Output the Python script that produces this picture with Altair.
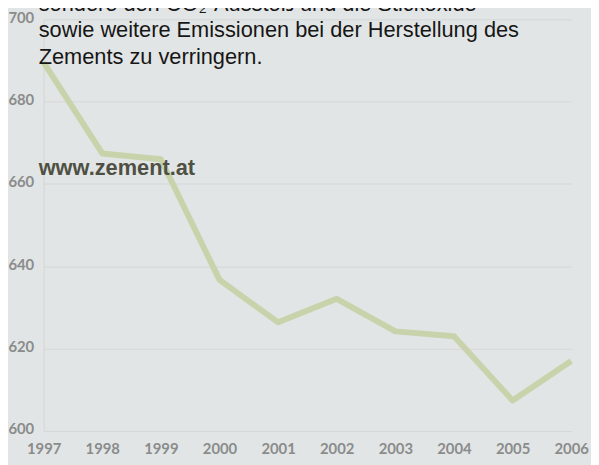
import altair as alt
import pandas as pd

years = ["1997", "1998", "1999", "2000", "2001", "2002", "2003", "2004", "2005", "2006"]
values = [689.5, 667.4, 666.0, 636.7, 626.4, 632.1, 624.2, 623.0, 607.4, 617.0]
y_ticks = [600, 620, 640, 660, 680, 700]
text_lines = [
    "sondere den CO\u2082-Ausstoß und die Stickoxide",
    "sowie weitere Emissionen bei der Herstellung des",
    "Zements zu verringern.",
]
url_text = "www.zement.at"

df = pd.DataFrame({"year": years, "value": values})

BG = "#e2e5e5"

base = alt.Chart(df)

line = base.mark_line(color="#c9d3ab", strokeWidth=6, strokeJoin="round").encode(
    x=alt.X(
        "year:O",
        scale=alt.Scale(type="point", padding=0),
        axis=alt.Axis(
            title=None,
            labelAngle=0,
            domain=False,
            ticks=False,
            labelPadding=11,
            labelFont="Lato",
            labelFontWeight="bold",
            labelFontSize=15,
            labelColor="#8a8c8c",
        ),
    ),
    y=alt.Y(
        "value:Q",
        scale=alt.Scale(domain=[600, 700], nice=False, zero=False),
        axis=alt.Axis(
            title=None,
            values=y_ticks,
            domain=True,
            domainColor="#d3d7d6",
            ticks=False,
            grid=True,
            gridColor="#d4d8d7",
            labelPadding=10,
            labelOffset=-2,
            labelFont="Lato",
            labelFontWeight="bold",
            labelFontSize=15,
            labelColor="#8a8c8c",
        ),
    ),
)

def txt(s, y):
    return alt.Chart(pd.DataFrame({"t": [s]})).mark_text(
        align="left", baseline="middle", font="Liberation Sans", fontSize=22, color="#161616"
    ).encode(x=alt.value(-5), y=alt.value(y), text="t:N")

t1 = txt(text_lines[0], -15)
t2 = txt(text_lines[1], 11)
t3 = txt(text_lines[2], 38)

url = alt.Chart(pd.DataFrame({"t": [url_text]})).mark_text(
    align="left", baseline="middle", font="Liberation Sans", fontSize=22,
    fontWeight="bold", color="#4e5044"
).encode(x=alt.value(-5), y=alt.value(150), text="t:N")

chart = alt.layer(line, t1, t2, t3, url).properties(
    width=533,
    height=416,
    padding={"left": 36, "right": 20, "top": 9, "bottom": 32},
    autosize=alt.AutoSizeParams(type="none"),
    background=BG,
).configure_view(stroke=None)

chart.save("out.html", embed_options={"renderer": "svg", "actions": False})
